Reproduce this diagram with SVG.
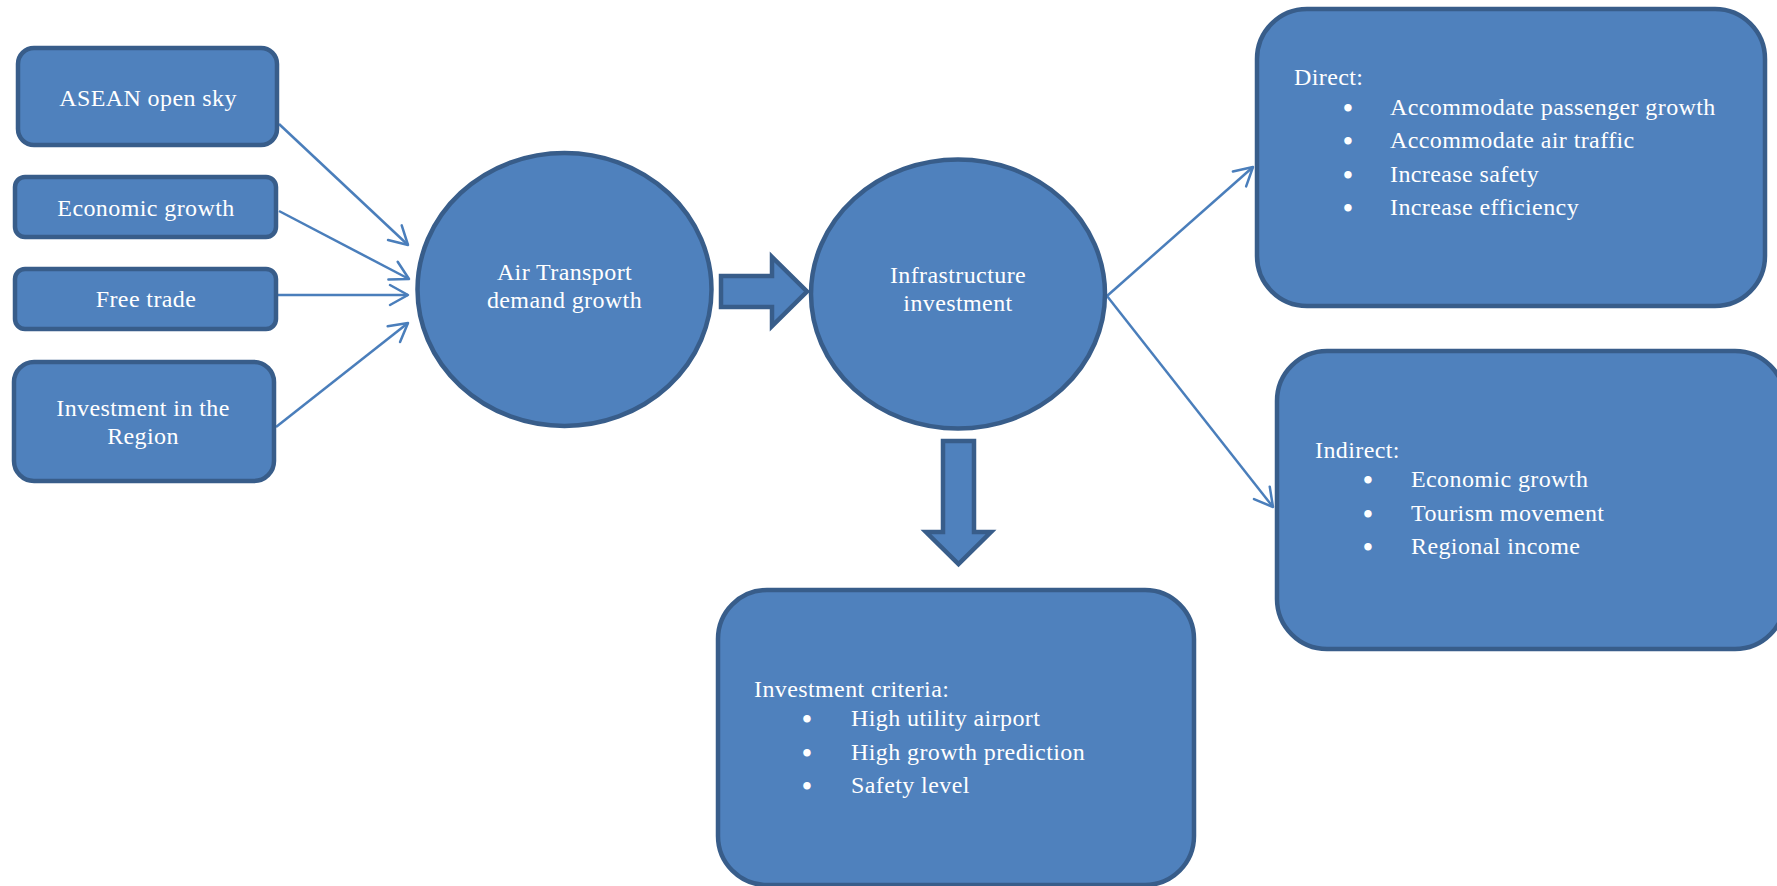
<svg xmlns="http://www.w3.org/2000/svg" width="1777" height="886" viewBox="0 0 1777 886">
<defs>
<style>
.box{fill:#4F81BD;stroke:#385D8A;stroke-width:4.5}
.t{font-family:"Liberation Serif","Times New Roman",serif;font-size:24px;letter-spacing:0.4px;fill:#FFFFFF}
.c{text-anchor:middle}
.b{font-family:"Liberation Serif","Times New Roman",serif;font-size:31px;fill:#FFFFFF;text-anchor:middle}
.conn{stroke:#4A7EBB;stroke-width:2.5;fill:none;marker-end:url(#ah)}
</style>
<marker id="ah" markerUnits="userSpaceOnUse" markerWidth="24" markerHeight="24" viewBox="-22 -12 24 24" refX="0" refY="0" orient="auto">
<path d="M-18,-10 L0,0 L-18,10" fill="none" stroke="#4A7EBB" stroke-width="2.5" stroke-linecap="round" stroke-linejoin="round"/>
</marker>
</defs>
<rect width="1777" height="886" fill="#FFFFFF"/>

<g id="connectors">
<line class="conn" x1="279" y1="124" x2="408" y2="245"/>
<line class="conn" x1="279" y1="211" x2="409" y2="279"/>
<line class="conn" x1="276" y1="295" x2="408" y2="295"/>
<line class="conn" x1="276" y1="427" x2="408" y2="323"/>
<line class="conn" x1="1107" y1="296" x2="1253" y2="167"/>
<line class="conn" x1="1107" y1="296" x2="1273" y2="507"/>
<polygon class="box" stroke-width="4" points="721,276 772,276 772,257 807,291.5 772,326 772,307 721,307"/>
<polygon class="box" stroke-width="4" points="943,441 974,441 974,532 991,532 958.5,564 926,532 943,532"/>
</g>

<g id="asean">
<rect class="box" x="18" y="48" width="259" height="97" rx="16"/>
<text class="t c" x="148" y="106">ASEAN open sky</text>
</g>
<g id="economic">
<rect class="box" x="15" y="177" width="261" height="60" rx="10"/>
<text class="t c" x="146" y="216">Economic growth</text>
</g>
<g id="freetrade">
<rect class="box" x="15" y="269" width="261" height="60" rx="10"/>
<text class="t c" x="146" y="307">Free trade</text>
</g>
<g id="investregion">
<rect class="box" x="14" y="362" width="260" height="119" rx="20"/>
<text class="t c" x="143" y="416">Investment in the</text>
<text class="t c" x="143" y="444">Region</text>
</g>

<g id="airtransport">
<ellipse class="box" cx="564.5" cy="289.5" rx="147" ry="136.5"/>
<text class="t c" x="564.5" y="280">Air Transport</text>
<text class="t c" x="564.5" y="308">demand growth</text>
</g>
<g id="infrastructure">
<ellipse class="box" cx="958" cy="294" rx="147" ry="134.5"/>
<text class="t c" x="958" y="283">Infrastructure</text>
<text class="t c" x="958" y="311">investment</text>
</g>

<g id="direct">
<rect class="box" x="1257" y="9" width="508" height="297" rx="50"/>
<text class="t" x="1294" y="85">Direct:</text>
<text class="b" x="1348" y="119">•</text>
<text class="t" x="1390" y="115">Accommodate passenger growth</text>
<text class="b" x="1348" y="152">•</text>
<text class="t" x="1390" y="148">Accommodate air traffic</text>
<text class="b" x="1348" y="186">•</text>
<text class="t" x="1390" y="182">Increase safety</text>
<text class="b" x="1348" y="219">•</text>
<text class="t" x="1390" y="215">Increase efficiency</text>
</g>

<g id="indirect">
<rect class="box" x="1277" y="351" width="508" height="298" rx="50"/>
<text class="t" x="1315" y="458">Indirect:</text>
<text class="b" x="1368" y="491">•</text>
<text class="t" x="1411" y="487">Economic growth</text>
<text class="b" x="1368" y="525">•</text>
<text class="t" x="1411" y="521">Tourism movement</text>
<text class="b" x="1368" y="558">•</text>
<text class="t" x="1411" y="554">Regional income</text>
</g>

<g id="criteria">
<rect class="box" x="718" y="590" width="476" height="295" rx="49"/>
<text class="t" x="754" y="697">Investment criteria:</text>
<text class="b" x="807" y="730">•</text>
<text class="t" x="851" y="726">High utility airport</text>
<text class="b" x="807" y="764">•</text>
<text class="t" x="851" y="760">High growth prediction</text>
<text class="b" x="807" y="797">•</text>
<text class="t" x="851" y="793">Safety level</text>
</g>
</svg>
